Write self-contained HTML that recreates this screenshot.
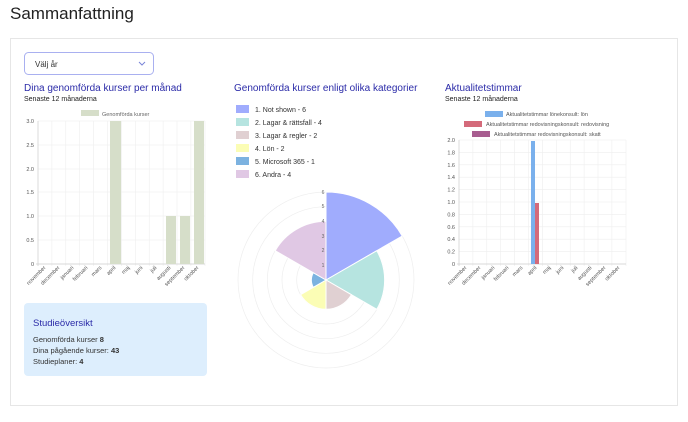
<!DOCTYPE html>
<html><head><meta charset="utf-8"><style>
body{margin:0;background:#fff;font-family:"Liberation Sans",sans-serif;}
svg text{font-family:"Liberation Sans",sans-serif;}
</style></head><body>
<svg width="688" height="417" xmlns="http://www.w3.org/2000/svg">
<text x="10" y="19" font-size="17" fill="#222">Sammanfattning</text>
<rect x="10.5" y="38.5" width="667" height="367" fill="#fff" stroke="#e6e6e6"/>
<rect x="24.5" y="52.5" width="129" height="22" rx="4" fill="#fff" stroke="#a9b0f0"/>
<text x="35" y="67" font-size="8" fill="#333">Välj år</text>
<path d="M139 62l3 3 3-3" fill="none" stroke="#7a85d8" stroke-width="1"/>

<text x="24" y="91" font-size="10" fill="#2b2ba8">Dina genomförda kurser per månad</text>
<text x="24" y="101" font-size="7" fill="#222">Senaste 12 månaderna</text>
<rect x="81" y="110" width="18" height="6" fill="#d6dec9"/>
<text x="102" y="116" font-size="5.5" fill="#666">Genomförda kurser</text>
<g stroke="#eee" stroke-width="0.6">
<line x1="38" y1="121" x2="205" y2="121"/><line x1="38" y1="145" x2="205" y2="145"/><line x1="38" y1="169" x2="205" y2="169"/><line x1="38" y1="192" x2="205" y2="192"/><line x1="38" y1="216" x2="205" y2="216"/><line x1="38" y1="240" x2="205" y2="240"/>
<line x1="51.9" y1="121" x2="51.9" y2="266"/><line x1="65.8" y1="121" x2="65.8" y2="266"/><line x1="79.7" y1="121" x2="79.7" y2="266"/><line x1="93.6" y1="121" x2="93.6" y2="266"/><line x1="107.5" y1="121" x2="107.5" y2="266"/><line x1="121.4" y1="121" x2="121.4" y2="266"/><line x1="135.3" y1="121" x2="135.3" y2="266"/><line x1="149.2" y1="121" x2="149.2" y2="266"/><line x1="163.1" y1="121" x2="163.1" y2="266"/><line x1="177" y1="121" x2="177" y2="266"/><line x1="190.9" y1="121" x2="190.9" y2="266"/><line x1="205" y1="121" x2="205" y2="266"/>
</g>
<line x1="38" y1="121" x2="38" y2="266" stroke="#ccc" stroke-width="0.7"/>
<line x1="36" y1="264" x2="205" y2="264" stroke="#ccc" stroke-width="0.7"/>
<g fill="#d6dec9"><rect x="110" y="121" width="11" height="143"/><rect x="166" y="216" width="10" height="48"/><rect x="180" y="216" width="10" height="48"/><rect x="194" y="121" width="10" height="143"/></g>
<g font-size="5.5" fill="#555" text-anchor="end">
<text x="34" y="123">3.0</text><text x="34" y="147">2.5</text><text x="34" y="171">2.0</text><text x="34" y="194">1.5</text><text x="34" y="218">1.0</text><text x="34" y="242">0.5</text><text x="34" y="266">0</text>
</g>
<g font-size="5.5" fill="#555" text-anchor="end">
<text transform="translate(46,268) rotate(-45)">november</text>
<text transform="translate(60,268) rotate(-45)">december</text>
<text transform="translate(74,268) rotate(-45)">januari</text>
<text transform="translate(88,268) rotate(-45)">februari</text>
<text transform="translate(102,268) rotate(-45)">mars</text>
<text transform="translate(116,268) rotate(-45)">april</text>
<text transform="translate(130,268) rotate(-45)">maj</text>
<text transform="translate(143,268) rotate(-45)">juni</text>
<text transform="translate(157,268) rotate(-45)">juli</text>
<text transform="translate(171,268) rotate(-45)">augusti</text>
<text transform="translate(185,268) rotate(-45)">september</text>
<text transform="translate(199,268) rotate(-45)">oktober</text>
</g>

<rect x="24" y="303" width="183" height="73" rx="4" fill="#ddeefd"/>
<text x="33" y="326" font-size="9.5" fill="#2b2ba8">Studieöversikt</text>
<text x="33" y="342" font-size="7.5" fill="#333">Genomförda kurser <tspan font-weight="bold">8</tspan></text>
<text x="33" y="353" font-size="7.5" fill="#333">Dina pågående kurser: <tspan font-weight="bold">43</tspan></text>
<text x="33" y="364" font-size="7.5" fill="#333">Studieplaner: <tspan font-weight="bold">4</tspan></text>

<text x="234" y="91" font-size="10" fill="#2b2ba8">Genomförda kurser enligt olika kategorier</text>
<g font-size="7" fill="#333">
<rect x="236" y="105" width="13" height="8" fill="#a0acfd"/><text x="255" y="112">1. Not shown - 6</text>
<rect x="236" y="118" width="13" height="8" fill="#b6e4e0"/><text x="255" y="125">2. Lagar &amp; rättsfall - 4</text>
<rect x="236" y="131" width="13" height="8" fill="#e0d0d2"/><text x="255" y="138">3. Lagar &amp; regler - 2</text>
<rect x="236" y="144" width="13" height="8" fill="#fbfdb5"/><text x="255" y="151">4. Lön - 2</text>
<rect x="236" y="157" width="13" height="8" fill="#7cb2e0"/><text x="255" y="164">5. Microsoft 365 - 1</text>
<rect x="236" y="170" width="13" height="8" fill="#e0c8e4"/><text x="255" y="177">6. Andra - 4</text>
</g>
<g fill="none" stroke="#eee" stroke-width="0.7">
<circle cx="326" cy="280" r="14.7"/><circle cx="326" cy="280" r="29.3"/><circle cx="326" cy="280" r="44"/><circle cx="326" cy="280" r="58.7"/><circle cx="326" cy="280" r="73.3"/><circle cx="326" cy="280" r="88"/>
</g>
<g stroke="#fff" stroke-width="1">
<path d="M326 280L326 192A88 88 0 0 1 402.2 236Z" fill="#a0acfd"/>
<path d="M326 280L376.8 250.7A58.7 58.7 0 0 1 376.8 309.3Z" fill="#b6e4e0"/>
<path d="M326 280L351.4 294.7A29.3 29.3 0 0 1 326 309.3Z" fill="#e0d0d2"/>
<path d="M326 280L326 309.3A29.3 29.3 0 0 1 300.6 294.7Z" fill="#fbfdb5"/>
<path d="M326 280L313.3 287.3A14.7 14.7 0 0 1 313.3 272.7Z" fill="#7cb2e0"/>
<path d="M326 280L275.2 250.7A58.7 58.7 0 0 1 326 221.3Z" fill="#e0c8e4"/>
</g>
<g font-size="5" fill="#666" text-anchor="middle">
<text x="323" y="194">6</text><text x="323" y="208">5</text><text x="323" y="223">4</text><text x="323" y="238">3</text><text x="323" y="252">2</text><text x="323" y="267">1</text>
</g>

<text x="445" y="91" font-size="10" fill="#2b2ba8">Aktualitetstimmar</text>
<text x="445" y="101" font-size="7" fill="#222">Senaste 12 månaderna</text>
<g font-size="5.5" fill="#555">
<rect x="485" y="111" width="18" height="6" fill="#7ab0ec"/><text x="506" y="116">Aktualitetstimmar lönekonsult: lön</text>
<rect x="464" y="121" width="18" height="6" fill="#d46a7a"/><text x="486" y="126">Aktualitetstimmar redovisningskonsult: redovisning</text>
<rect x="472" y="131" width="18" height="6" fill="#a85d90"/><text x="494" y="136">Aktualitetstimmar redovisningskonsult: skatt</text>
</g>
<g stroke="#eee" stroke-width="0.6">
<line x1="459" y1="140" x2="626" y2="140"/><line x1="459" y1="152.4" x2="626" y2="152.4"/><line x1="459" y1="164.8" x2="626" y2="164.8"/><line x1="459" y1="177.2" x2="626" y2="177.2"/><line x1="459" y1="189.6" x2="626" y2="189.6"/><line x1="459" y1="202" x2="626" y2="202"/><line x1="459" y1="214.4" x2="626" y2="214.4"/><line x1="459" y1="226.8" x2="626" y2="226.8"/><line x1="459" y1="239.2" x2="626" y2="239.2"/><line x1="459" y1="251.6" x2="626" y2="251.6"/>
<line x1="472.9" y1="140" x2="472.9" y2="266"/><line x1="486.8" y1="140" x2="486.8" y2="266"/><line x1="500.7" y1="140" x2="500.7" y2="266"/><line x1="514.6" y1="140" x2="514.6" y2="266"/><line x1="528.5" y1="140" x2="528.5" y2="266"/><line x1="542.4" y1="140" x2="542.4" y2="266"/><line x1="556.3" y1="140" x2="556.3" y2="266"/><line x1="570.2" y1="140" x2="570.2" y2="266"/><line x1="584.1" y1="140" x2="584.1" y2="266"/><line x1="598" y1="140" x2="598" y2="266"/><line x1="611.9" y1="140" x2="611.9" y2="266"/><line x1="626" y1="140" x2="626" y2="266"/>
</g>
<line x1="459" y1="140" x2="459" y2="266" stroke="#ccc" stroke-width="0.7"/>
<line x1="457" y1="264" x2="626" y2="264" stroke="#ccc" stroke-width="0.7"/>
<rect x="531" y="141" width="4" height="123" fill="#7ab0ec"/>
<rect x="535" y="203" width="4" height="61" fill="#d46a7a"/>
<g font-size="5.5" fill="#555" text-anchor="end">
<text x="455" y="142">2.0</text><text x="455" y="154.4">1.8</text><text x="455" y="166.8">1.6</text><text x="455" y="179.2">1.4</text><text x="455" y="191.6">1.2</text><text x="455" y="204">1.0</text><text x="455" y="216.4">0.8</text><text x="455" y="228.8">0.6</text><text x="455" y="241.2">0.4</text><text x="455" y="253.6">0.2</text><text x="455" y="266">0</text>
</g>
<g font-size="5.5" fill="#555" text-anchor="end">
<text transform="translate(467,268) rotate(-45)">november</text>
<text transform="translate(481,268) rotate(-45)">december</text>
<text transform="translate(495,268) rotate(-45)">januari</text>
<text transform="translate(509,268) rotate(-45)">februari</text>
<text transform="translate(523,268) rotate(-45)">mars</text>
<text transform="translate(537,268) rotate(-45)">april</text>
<text transform="translate(551,268) rotate(-45)">maj</text>
<text transform="translate(564,268) rotate(-45)">juni</text>
<text transform="translate(578,268) rotate(-45)">juli</text>
<text transform="translate(592,268) rotate(-45)">augusti</text>
<text transform="translate(606,268) rotate(-45)">september</text>
<text transform="translate(620,268) rotate(-45)">oktober</text>
</g>
</svg>
</body></html>
